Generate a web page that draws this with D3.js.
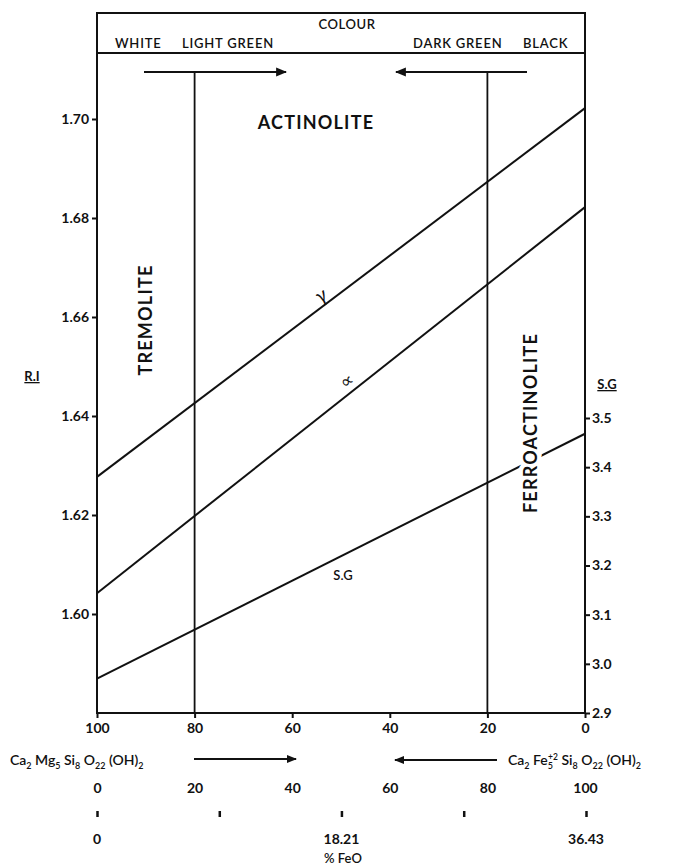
<!DOCTYPE html>
<html>
<head>
<meta charset="utf-8">
<script src="https://cdn.jsdelivr.net/npm/d3@7"></script>
<style>
body{margin:0;background:#fff;}
text{font-family:Lato,"DejaVu Sans",sans-serif;fill:#111;}
</style>
</head>
<body>
<svg></svg>
<script>
var width=678;
var height=867;

// data
var pctTicks=[100,80,60,40,20,0];
var riTicks=[1.60,1.62,1.64,1.66,1.68,1.70];
var sgTicks=[2.9,3.0,3.1,3.2,3.3,3.4,3.5];
var compTicks=[0,20,40,60,80,100];
var feoTicks=[0,9.11,18.21,27.32,36.43];
var feoLabels=[0,18.21,36.43];
var colourBounds=[80,20];
var gammaLine=[{pct:100,v:1.6277},{pct:0,v:1.7022}];
var alphaLine=[{pct:100,v:1.6042},{pct:0,v:1.6822}];
var sgLine=[{pct:100,v:2.97},{pct:0,v:3.468}];

var left=97,right=585,bottom=713,topY=13,headBottom=53;

var svg=d3.select("svg")
	.attr("width",width)
	.attr("height",height);

svg.append("defs").append("marker")
	.attr("id","arr")
	.attr("viewBox","0 0 10 10")
	.attr("refX",9).attr("refY",5)
	.attr("markerWidth",5).attr("markerHeight",5)
	.attr("orient","auto-start-reverse")
	.append("path")
	.attr("d","M0,1 L10,5 L0,9 Z")
	.attr("fill","#111");

var scalex=d3.scaleLinear().domain([100,0]).range([left,right]);
var scaleri=d3.scaleLinear().domain([1.58,1.70]).range([bottom,119]);
var scalesg=d3.scaleLinear().domain([2.9,3.5]).range([bottom,418]);
var scalecomp=d3.scaleLinear().domain([0,100]).range([left,right]);
var scalefeo=d3.scaleLinear().domain([0,36.43]).range([left,586]);

// frame + header box
svg.append("path")
	.attr("d","M"+left+","+bottom+"V"+topY+"H"+right+"V"+bottom+"Z")
	.attr("fill","none").attr("stroke","#111").attr("stroke-width",2);
svg.append("line")
	.attr("x1",left).attr("x2",right).attr("y1",headBottom).attr("y2",headBottom)
	.attr("stroke","#111").attr("stroke-width",2);

svg.append("text").attr("x",347).attr("y",29).attr("text-anchor","middle")
	.style("font-size","13px").style("font-weight","600").style("letter-spacing","0.6px").text("COLOUR");
var heads=[["WHITE",115],["LIGHT GREEN",182],["DARK GREEN",413],["BLACK",523]];
heads.forEach(function(h){
	svg.append("text").attr("x",h[1]).attr("y",48)
		.style("font-size","13px").style("font-weight","600").style("letter-spacing","0.8px").text(h[0]);
});

// colour arrows
svg.append("line").attr("x1",144).attr("x2",286).attr("y1",72).attr("y2",72)
	.attr("stroke","#111").attr("stroke-width",2.2).attr("marker-end","url(#arr)");
svg.append("line").attr("x1",527).attr("x2",396).attr("y1",72).attr("y2",72)
	.attr("stroke","#111").attr("stroke-width",2.2).attr("marker-end","url(#arr)");

// vertical boundaries
svg.selectAll(".bound").data(colourBounds).enter().append("line")
	.attr("x1",d=>scalex(d)).attr("x2",d=>scalex(d))
	.attr("y1",72).attr("y2",bottom)
	.attr("stroke","#111").attr("stroke-width",1.8);

// lines
var ri=d3.line().x(d=>scalex(d.pct)).y(d=>scaleri(d.v));
var sgl=d3.line().x(d=>scalex(d.pct)).y(d=>scalesg(d.v));
[gammaLine,alphaLine].forEach(function(a){
	svg.append("path").datum(a).attr("d",ri)
		.attr("fill","none").attr("stroke","#111").attr("stroke-width",2);
});
svg.append("path").datum(sgLine).attr("d",sgl)
	.attr("fill","none").attr("stroke","#111").attr("stroke-width",2);

// axes
function styleAxis(g){
	g.select(".domain").remove();
	g.selectAll(".tick line").attr("stroke","#111").attr("stroke-width",2);
	g.selectAll(".tick text").style("font-family","Lato,sans-serif").style("font-size","14px")
		.style("font-weight","bold").attr("fill","#111");
}
svg.append("g").attr("transform","translate("+left+",0)")
	.call(d3.axisLeft(scaleri).tickValues(riTicks).tickFormat(d3.format(".2f")).tickSize(5).tickPadding(3))
	.call(styleAxis);
svg.append("g").attr("transform","translate("+right+",0)")
	.call(d3.axisRight(scalesg).tickValues(sgTicks).tickFormat(d3.format(".1f")).tickSize(5).tickPadding(2))
	.call(styleAxis);
svg.append("g").attr("transform","translate(0,"+bottom+")")
	.call(d3.axisBottom(scalex).tickValues(pctTicks).tickSize(5).tickPadding(5))
	.call(styleAxis);
svg.append("g").attr("transform","translate(0,777)")
	.call(d3.axisBottom(scalecomp).tickValues(compTicks).tickSize(0).tickPadding(6))
	.call(styleAxis);
var feoAxis=svg.append("g").attr("transform","translate(0,811)")
	.call(d3.axisBottom(scalefeo).tickValues(feoTicks).tickSize(6).tickFormat(""))
	.call(styleAxis);
feoAxis.selectAll(".tick line").attr("stroke-width",2.5);
svg.selectAll(".feolab").data(feoLabels).enter().append("text")
	.attr("x",d=>scalefeo(d)).attr("y",844).attr("text-anchor","middle")
	.style("font-size","14px").style("font-weight","bold")
	.text(d=>d);
svg.append("text").attr("x",343).attr("y",863).attr("text-anchor","middle")
	.style("font-size","13px").style("font-weight","600").text("% FeO");

// axis names
svg.append("text").attr("x",32).attr("y",381).attr("text-anchor","middle")
	.style("font-size","13px").style("font-weight","bold").style("text-decoration","underline").text("R.I");
svg.append("text").attr("x",607).attr("y",389).attr("text-anchor","middle")
	.style("font-size","13px").style("font-weight","bold").style("text-decoration","underline").text("S.G");

// region labels
svg.append("text").attr("x",316).attr("y",129).attr("text-anchor","middle")
	.style("font-size","18px").style("font-weight","bold").style("letter-spacing","1.2px").text("ACTINOLITE");
svg.append("text").attr("transform","translate(152,320) rotate(-90)").attr("text-anchor","middle")
	.style("font-size","18px").style("font-weight","bold").style("letter-spacing","1.2px").text("TREMOLITE");
svg.append("text").attr("transform","translate(537,423) rotate(-90)").attr("text-anchor","middle")
	.style("font-size","18px").style("font-weight","bold").style("letter-spacing","1.2px")
	.style("stroke","#fff").style("stroke-width","9px").style("paint-order","stroke")
	.text("FERROACTINOLITE");

// line labels
svg.append("text").attr("x",322).attr("y",302).attr("text-anchor","middle")
	.attr("transform","rotate(-33,322,297)")
	.style("font-size","20px").style("font-style","italic").text("γ");
svg.append("text").attr("x",347).attr("y",387).attr("text-anchor","middle")
	.attr("transform","rotate(-33,347,381)")
	.style("font-size","18px").text("∝");
svg.append("text").attr("x",343).attr("y",580).attr("text-anchor","middle")
	.style("font-size","13px").style("font-weight","600").text("S.G");

// formulas
function formula(x,y,parts){
	var t=svg.append("text").attr("x",x).attr("y",y).style("font-size","14px").style("font-weight","600");
	var prev=0;
	parts.forEach(function(p){
		var s=t.append("tspan").text(p[0]);
		var dy=0;
		if(p[1]=="sub"){dy=4;s.style("font-size","9px");}
		if(p[1]=="sup"){dy=-5;s.style("font-size","8.5px");}
		s.attr("dy",dy-prev);
		prev=dy;
		if(p[2]!==undefined) s.attr("dx",p[2]);
	});
	return t;
}
formula(10,765,[["Ca"],["2","sub"],[" Mg"],["5","sub"],[" Si"],["8","sub"],[" O"],["22","sub"],[" (OH)"],["2","sub"]]);
formula(508,765,[["Ca"],["2","sub"],[" Fe"],["5","sub"],["+2","sup",-5],[" Si"],["8","sub"],[" O"],["22","sub"],[" (OH)"],["2","sub"]]);

svg.append("line").attr("x1",194).attr("x2",296).attr("y1",759).attr("y2",759)
	.attr("stroke","#111").attr("stroke-width",2).attr("marker-end","url(#arr)");
svg.append("line").attr("x1",497).attr("x2",395).attr("y1",760).attr("y2",760)
	.attr("stroke","#111").attr("stroke-width",2).attr("marker-end","url(#arr)");
</script>
</body>
</html>
